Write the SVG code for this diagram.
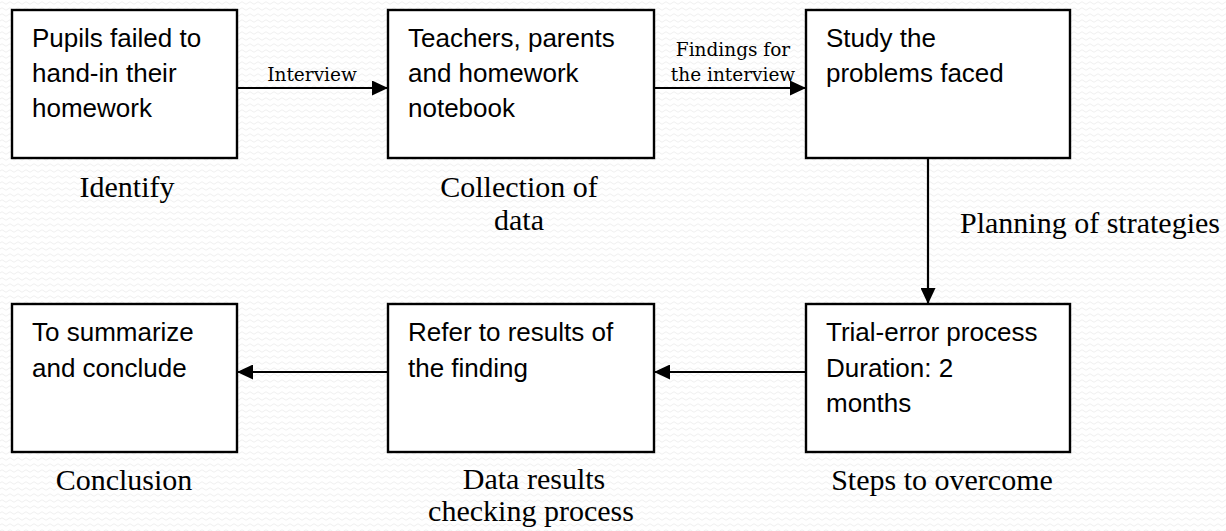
<svg xmlns="http://www.w3.org/2000/svg" width="1226" height="531" viewBox="0 0 1226 531">
<style>
.box{fill:#fff;stroke:#000;stroke-width:2.4}
.bt{font-family:"Liberation Sans",Arial,sans-serif;font-size:26px;fill:#000}
.lb{font-family:"Liberation Serif","Times New Roman",serif;font-size:30px;fill:#000;text-anchor:middle}
.cl{font-family:"DejaVu Serif",serif;font-size:18.5px;fill:#000;text-anchor:middle}
.cn{stroke:#000;stroke-width:2.2;fill:none}
</style>
<defs>
<pattern id="wave" width="8" height="6" patternUnits="userSpaceOnUse">
<path d="M0 3 Q2 0.5 4 3 T8 3" fill="none" stroke="#ebebeb" stroke-width="0.8"/>
</pattern>
<marker id="ah" markerUnits="userSpaceOnUse" markerWidth="17" markerHeight="15" refX="16" refY="7.5" orient="auto">
<path d="M0 0 L16 7.5 L0 15 Z" fill="#000"/>
</marker>
</defs>
<rect x="0" y="0" width="1226" height="531" fill="#fff"/>
<rect x="0" y="0" width="1226" height="531" fill="url(#wave)"/>

<g id="connectors">
<line class="cn" x1="237" y1="88" x2="388" y2="88" marker-end="url(#ah)"/>
<text class="cl" x="312" y="81">Interview</text>
<line class="cn" x1="654" y1="88" x2="806" y2="88" marker-end="url(#ah)"/>
<text class="cl" x="733" y="56">Findings for</text>
<text class="cl" x="733" y="81">the interview</text>
<line class="cn" x1="928" y1="158" x2="928" y2="304" marker-end="url(#ah)"/>
<text x="960" y="233" font-family="'Liberation Serif','Times New Roman',serif" font-size="30">Planning of strategies</text>
<line class="cn" x1="806" y1="372" x2="654" y2="372" marker-end="url(#ah)"/>
<line class="cn" x1="388" y1="372" x2="237" y2="372" marker-end="url(#ah)"/>
</g>

<g id="n1">
<rect class="box" x="12" y="10" width="225" height="148"/>
<text class="bt" x="32" y="47">Pupils failed to</text>
<text class="bt" x="32" y="82">hand-in their</text>
<text class="bt" x="32" y="117">homework</text>
<text class="lb" x="127" y="197">Identify</text>
</g>

<g id="n2">
<rect class="box" x="388" y="10" width="266" height="148"/>
<text class="bt" x="408" y="47">Teachers, parents</text>
<text class="bt" x="408" y="82">and homework</text>
<text class="bt" x="408" y="117">notebook</text>
<text class="lb" x="519" y="197">Collection of</text>
<text class="lb" x="519" y="230">data</text>
</g>

<g id="n3">
<rect class="box" x="806" y="10" width="264" height="148"/>
<text class="bt" x="826" y="47">Study the</text>
<text class="bt" x="826" y="82">problems faced</text>
</g>

<g id="n4">
<rect class="box" x="806" y="304" width="264" height="148"/>
<text class="bt" x="826" y="341">Trial-error process</text>
<text class="bt" x="826" y="377">Duration: 2</text>
<text class="bt" x="826" y="412">months</text>
<text class="lb" x="942" y="490">Steps to overcome</text>
</g>

<g id="n5">
<rect class="box" x="388" y="304" width="266" height="148"/>
<text class="bt" x="408" y="341">Refer to results of</text>
<text class="bt" x="408" y="377">the finding</text>
<text class="lb" x="534" y="489">Data results</text>
<text class="lb" x="531" y="521">checking process</text>
</g>

<g id="n6">
<rect class="box" x="12" y="304" width="225" height="148"/>
<text class="bt" x="32" y="341">To summarize</text>
<text class="bt" x="32" y="377">and conclude</text>
<text class="lb" x="124" y="490">Conclusion</text>
</g>
</svg>
